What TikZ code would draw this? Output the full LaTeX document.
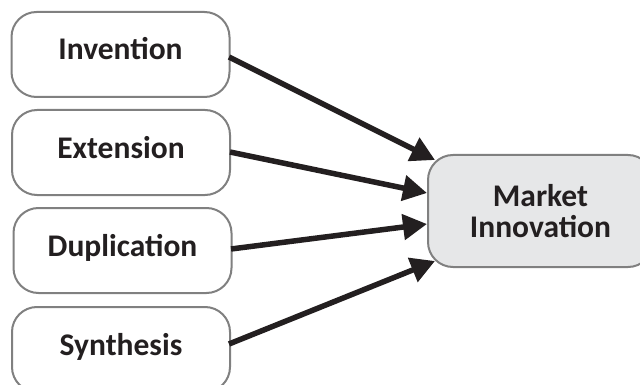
\documentclass[tikz,border=0pt]{standalone}
\usepackage{fontspec}
\setmainfont{Carlito}
\usetikzlibrary{arrows.meta}
\definecolor{ink}{HTML}{231F20}
\definecolor{edge}{HTML}{808080}
\definecolor{mfill}{HTML}{E6E7E8}
\begin{document}
\begin{tikzpicture}[x=1pt,y=-1pt,
  srcbox/.style={draw=edge,line width=2pt,rounded corners=25pt,fill=white,
    minimum width=218pt,minimum height=85pt,inner sep=0pt,
    text height=21pt,text depth=10pt,text=ink,
    font=\fontsize{31.5}{34}\selectfont\bfseries},
  tgtbox/.style={draw=edge,line width=2pt,rounded corners=25pt,fill=mfill,
    minimum width=225pt,minimum height=112pt,inner sep=0pt,align=center,text=ink,
    font=\fontsize{31.5}{31}\selectfont\bfseries},
  conn/.style={draw=ink,line width=5.5pt,-{Triangle[length=24pt,width=25pt]}}]
\useasboundingbox (0,0) rectangle (640,385);
\node[srcbox] (inv) at (120.5,54.5) {Invention};
\node[srcbox] (ext) at (121,152.5) {Extension};
\node[srcbox] (dup) at (122.5,250.5) {Duplication};
\node[srcbox] (syn) at (121,349.5) {Synthesis};
\node[tgtbox] (mkt) at (540.5,211) {Market\\Innovation};
\coordinate (s1) at (229,57);
\coordinate (s2) at (230,152);
\coordinate (s3) at (231,249);
\coordinate (s4) at (229,344);
\coordinate (t1) at (435,160);
\coordinate (t2) at (427,193);
\coordinate (t3) at (427,224);
\coordinate (t4) at (435,261);
\draw[conn] (s1) -- (t1);
\draw[conn] (s2) -- (t2);
\draw[conn] (s3) -- (t3);
\draw[conn] (s4) -- (t4);
\end{tikzpicture}
\end{document}
